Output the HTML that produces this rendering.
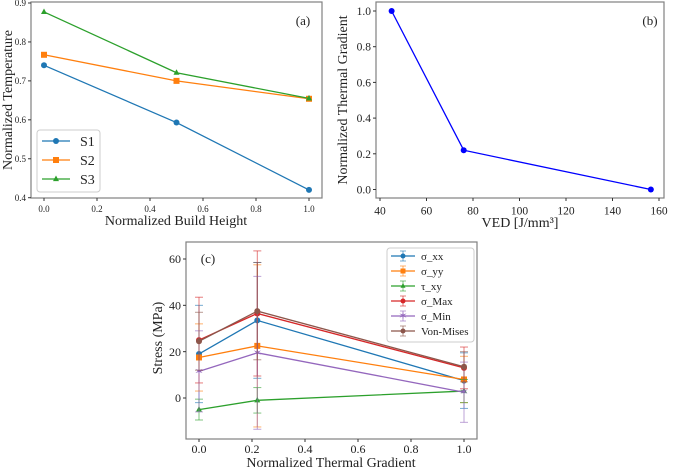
<!DOCTYPE html>
<html><head><meta charset="utf-8"><style>
body{margin:0;background:#fff;width:675px;height:468px;overflow:hidden}
svg, svg text{font-family:"Liberation Serif","Times New Roman","DejaVu Serif",serif}
</style></head><body>
<svg id="s" width="675" height="468" xmlns="http://www.w3.org/2000/svg"></svg>
<script>
// Panel (a)
const aX=[0,0.5,1.0];
const aS1=[0.74,0.593,0.42];
const aS2=[0.767,0.70,0.654];
const aS3=[0.877,0.721,0.655];
const aXTicks=[0,0.2,0.4,0.6,0.8,1.0];
const aYTicks=[0.4,0.5,0.6,0.7,0.8,0.9];
// Panel (b)
const bX=[45,76,156.5];
const bY=[1.0,0.22,0.0];
const bXTicks=[40,60,80,100,120,140,160];
const bYTicks=[0,0.2,0.4,0.6,0.8,1.0];
// Panel (c)
const cX=[0,0.22,1.0];
const cNames=["σ_xx","σ_yy","τ_xy","σ_Max","σ_Min","Von-Mises"];
const cXX=[19,33.5,7.5], cXXe=[21,25,12];
const cYY=[17.5,22.5,8], cYYe=[14.5,35,10];
const cTXY=[-5,-1,3], cTXYe=[4.5,5.5,5];
const cMax=[25,36.5,13], cMaxe=[18.5,27,9];
const cMin=[11.5,19.5,2.5], cMine=[17.5,33,13];
const cVM=[24.5,37.5,13.5], cVMe=[12.5,21,6.5];
const cXTicks=[0,0.2,0.4,0.6,0.8,1.0];
const cYTicks=[0,20,40,60];

const FF='"Liberation Serif", "Times New Roman", "DejaVu Serif", serif';
const S=document.getElementById('s');const NS="http://www.w3.org/2000/svg";
function el(t,a,p){const e=document.createElementNS(NS,t);for(const k in a)e.setAttribute(k,a[k]);if(t==='text')e.style.fontFamily=FF;(p||S).appendChild(e);return e;}
function lin(d0,d1,r0,r1){return v=>r0+(v-d0)/(d1-d0)*(r1-r0);}
function marker(g,type,x,y,c,r){
 if(type==='o')return el('circle',{cx:x,cy:y,r:r,fill:c},g);
 if(type==='s')return el('rect',{x:x-r,y:y-r,width:2*r,height:2*r,fill:c},g);
 if(type==='^')return el('polygon',{points:`${x},${y-r-0.5} ${x-r},${y+r*0.7} ${x+r},${y+r*0.7}`,fill:c},g);
 if(type==='*'){const p=el('text',{x:x,y:y+3.5,'text-anchor':'middle','font-size':11,fill:c},g);p.textContent='✶';return p;}
}
function axes(name,L,R,T,B,sx,sy,xt,yt,fmtx,fmty,fs,xo){
 const g=el('g',{});
 
 
 el('rect',{x:L,y:T,width:R-L,height:B-T,fill:'none',stroke:'#808080','stroke-width':1.2},g);
 xt.forEach(v=>{const x=sx(v);el('line',{x1:x,x2:x,y1:B,y2:B+3,stroke:'#333'},g);
  const t=el('text',{x:x,y:B+xo+fs,'text-anchor':'middle','font-size':fs,fill:'#222'},g);t.textContent=fmtx(v);
  });
 yt.forEach(v=>{const y=sy(v);el('line',{x1:L-3,x2:L,y1:y,y2:y,stroke:'#333'},g);
  const t=el('text',{x:L-5,y:y+fs*0.35,'text-anchor':'end','font-size':fs,fill:'#222'},g);t.textContent=fmty(v);
  });
 return g;
}
function label(txt,x,y,fs,rot,name){const t=el('text',{x:x,y:y,'text-anchor':'middle','font-size':fs,fill:'#222'});
 if(rot)t.setAttribute('transform',`rotate(-90 ${x} ${y})`);t.textContent=txt;
 return t;}
function series(xs,ys,sx,sy,c,m,r,name){const g=el('g',{});
 
 el('polyline',{points:xs.map((x,i)=>sx(x)+','+sy(ys[i])).join(' '),fill:'none',stroke:c,'stroke-width':1.3},g);
 xs.forEach((x,i)=>marker(g,m,sx(x),sy(ys[i]),c,r));return g;}

// ---- (a)
{const sx=lin(0,1,44,309),sy=lin(0.4,0.9,197.7,3);
 axes('panel-a',31,322,2,198,sx,sy,aXTicks,aYTicks,v=>v.toFixed(1),v=>v.toFixed(1),9,5);
 const cs=['#1f77b4','#ff7f0e','#2ca02c'],ms=['o','s','^'],ds=[aS1,aS2,aS3];
 ds.forEach((d,i)=>series(aX,d,sx,sy,cs[i],ms[i],3,'series-s'+(i+1)));
 label('Normalized Build Height',176,225,14,false,'x-axis-title-a');
 label('Normalized Temperature',12,100,14,true,'y-axis-title-a');
 label('(a)',303,25,13,false,'panel-label-a');
 const lg=el('g',{});
 el('rect',{x:37,y:130,width:63,height:62,rx:3,fill:'#fff',stroke:'#ccc'},lg);
 ['S1','S2','S3'].forEach((n,i)=>{const y=141+i*19;
  el('line',{x1:42,x2:70,y1:y,y2:y,stroke:cs[i],'stroke-width':1.3},lg);marker(lg,ms[i],56,y,cs[i],3);
  const t=el('text',{x:80,y:y+5,'font-size':14,fill:'#222'},lg);t.textContent=n;
  });
}
// ---- (b)
{const sx=lin(40,160,380,659),sy=lin(0,1,189.5,11);
 axes('panel-b',376,664,2,198,sx,sy,bXTicks,bYTicks,v=>String(v),v=>v.toFixed(1),11.5,5);
 series(bX,bY,sx,sy,'#0000ff','o',3,'series-thermal-gradient');
 label('VED [J/mm³]',520,227,14,false,'x-axis-title-b');
 label('Normalized Thermal Gradient',347,100,14,true,'y-axis-title-b');
 label('(b)',650,25,13,false,'panel-label-b');
}
// ---- (c)
{const sx=lin(0,1,199,464),sy=lin(0,60,398,259);
 axes('panel-c',186,477,242,439,sx,sy,cXTicks,cYTicks,v=>v.toFixed(1),v=>String(v),12,2);
 const cs=['#1f77b4','#ff7f0e','#2ca02c','#d62728','#9467bd','#8c564b'],ms=['o','s','^','o','*','o'];
 const ds=[cXX,cYY,cTXY,cMax,cMin,cVM],es=[cXXe,cYYe,cTXYe,cMaxe,cMine,cVMe];
 ds.forEach((d,i)=>{const g=series(cX,d,sx,sy,cs[i],ms[i],3,'series-'+cNames[i]);
  cX.forEach((x,j)=>{const X=sx(x),y1=sy(d[j]+es[i][j]),y2=sy(d[j]-es[i][j]);
   el('line',{x1:X,x2:X,y1:y1,y2:y2,stroke:cs[i],'stroke-width':1,opacity:0.6},g);
   el('line',{x1:X-4,x2:X+4,y1:y1,y2:y1,stroke:cs[i],'stroke-width':1,opacity:0.6},g);
   el('line',{x1:X-4,x2:X+4,y1:y2,y2:y2,stroke:cs[i],'stroke-width':1,opacity:0.6},g);});});
 label('Normalized Thermal Gradient',331,467,14,false,'x-axis-title-c');
 label('Stress (MPa)',162,338,14,true,'y-axis-title-c');
 label('(c)',208,263,13,false,'panel-label-c');
 const lg=el('g',{});
 el('rect',{x:387,y:248,width:87,height:94,rx:3,fill:'#fff',stroke:'#ccc'},lg);
 cNames.forEach((n,i)=>{const y=256+i*15;
  el('line',{x1:391,x2:415,y1:y,y2:y,stroke:cs[i],'stroke-width':1.3},lg);
  el('line',{x1:403,x2:403,y1:y-5,y2:y+5,stroke:cs[i],opacity:0.6},lg);
  el('line',{x1:400,x2:406,y1:y-5,y2:y-5,stroke:cs[i],opacity:0.6},lg);
  el('line',{x1:400,x2:406,y1:y+5,y2:y+5,stroke:cs[i],opacity:0.6},lg);
  marker(lg,ms[i],403,y,cs[i],2.5);
  const t=el('text',{x:421,y:y+4,'font-size':11,fill:'#222'},lg);t.textContent=n;
  });
}
</script>
</body></html>
